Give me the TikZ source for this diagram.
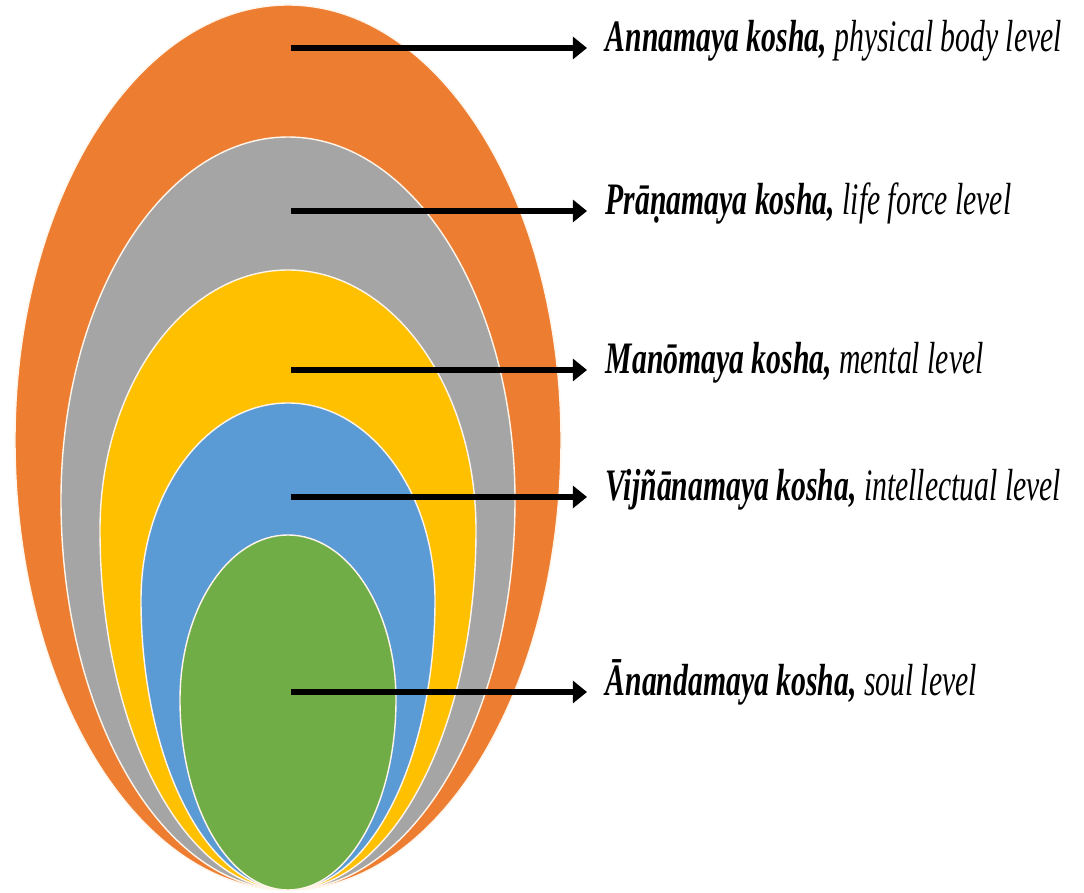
\documentclass[tikz,border=0pt]{standalone}
\usepackage{fontspec}
\setmainfont[FakeStretch=0.66]{Liberation Serif}
\usepackage{tikz}
\usetikzlibrary{arrows.meta}

\definecolor{annacol}{HTML}{ED7D31}
\definecolor{pranacol}{HTML}{A5A5A5}
\definecolor{manocol}{HTML}{FFC000}
\definecolor{vijnacol}{HTML}{5B9BD5}
\definecolor{anandacol}{HTML}{70AD47}

\begin{document}
\begin{tikzpicture}[
  x=0.025cm, y=0.025cm,
  sheath/.style={
    draw=white!92!orange,
    line width=1pt
  },
  kosha/.style={
    anchor=west,
    inner xsep=0.47cm,
    inner ysep=0pt,
    outer sep=0pt,
    text height=0.68em,
    text depth=0.25em,
    font=\fontsize{32}{38}\selectfont
  },
  arrow/.style={-{Triangle[length=10pt, width=15.5pt]}, line width=4pt}
]
\useasboundingbox (0,0) rectangle (1084,893);

% nested sheaths: colour / top / widest / half-width
\foreach \col/\top/\mid/\half in {
  annacol/888/453/273,
  pranacol/756/393/227,
  manocol/623/363/188,
  vijnacol/490/293/147,
  anandacol/358/193/108}
{
  \filldraw[sheath, fill=\col] (288-\half,\mid)
    arc[start angle=180, end angle=0, x radius=\half, y radius=\top-\mid]
    arc[start angle=0, end angle=-180, x radius=\half, y radius=\mid-3]
    -- cycle;
}

\coordinate (anna-in) at (291,845);
\coordinate (prana-in) at (291,682);
\coordinate (mano-in) at (291,523);
\coordinate (vijna-in) at (291,396);
\coordinate (ananda-in) at (291,201);

\node[kosha] (anna) at (587,845) {\textbf{\textit{Annamaya kosha,}} \textit{physical body level}};
\node[kosha] (prana) at (587,682) {\textbf{\textit{Prāṇamaya kosha,}} \textit{life force level}};
\node[kosha] (mano) at (587,523) {\textbf{\textit{Manōmaya kosha,}} \textit{mental level}};
\node[kosha] (vijna) at (587,396) {\textbf{\textit{Vijñānamaya kosha,}} \textit{intellectual level}};
\node[kosha] (ananda) at (587,201) {\textbf{\textit{Ānandamaya kosha,}} \textit{soul level}};

\draw[arrow] (anna-in) -- (anna);
\draw[arrow] (prana-in) -- (prana);
\draw[arrow] (mano-in) -- (mano);
\draw[arrow] (vijna-in) -- (vijna);
\draw[arrow] (ananda-in) -- (ananda);

\end{tikzpicture}
\end{document}
